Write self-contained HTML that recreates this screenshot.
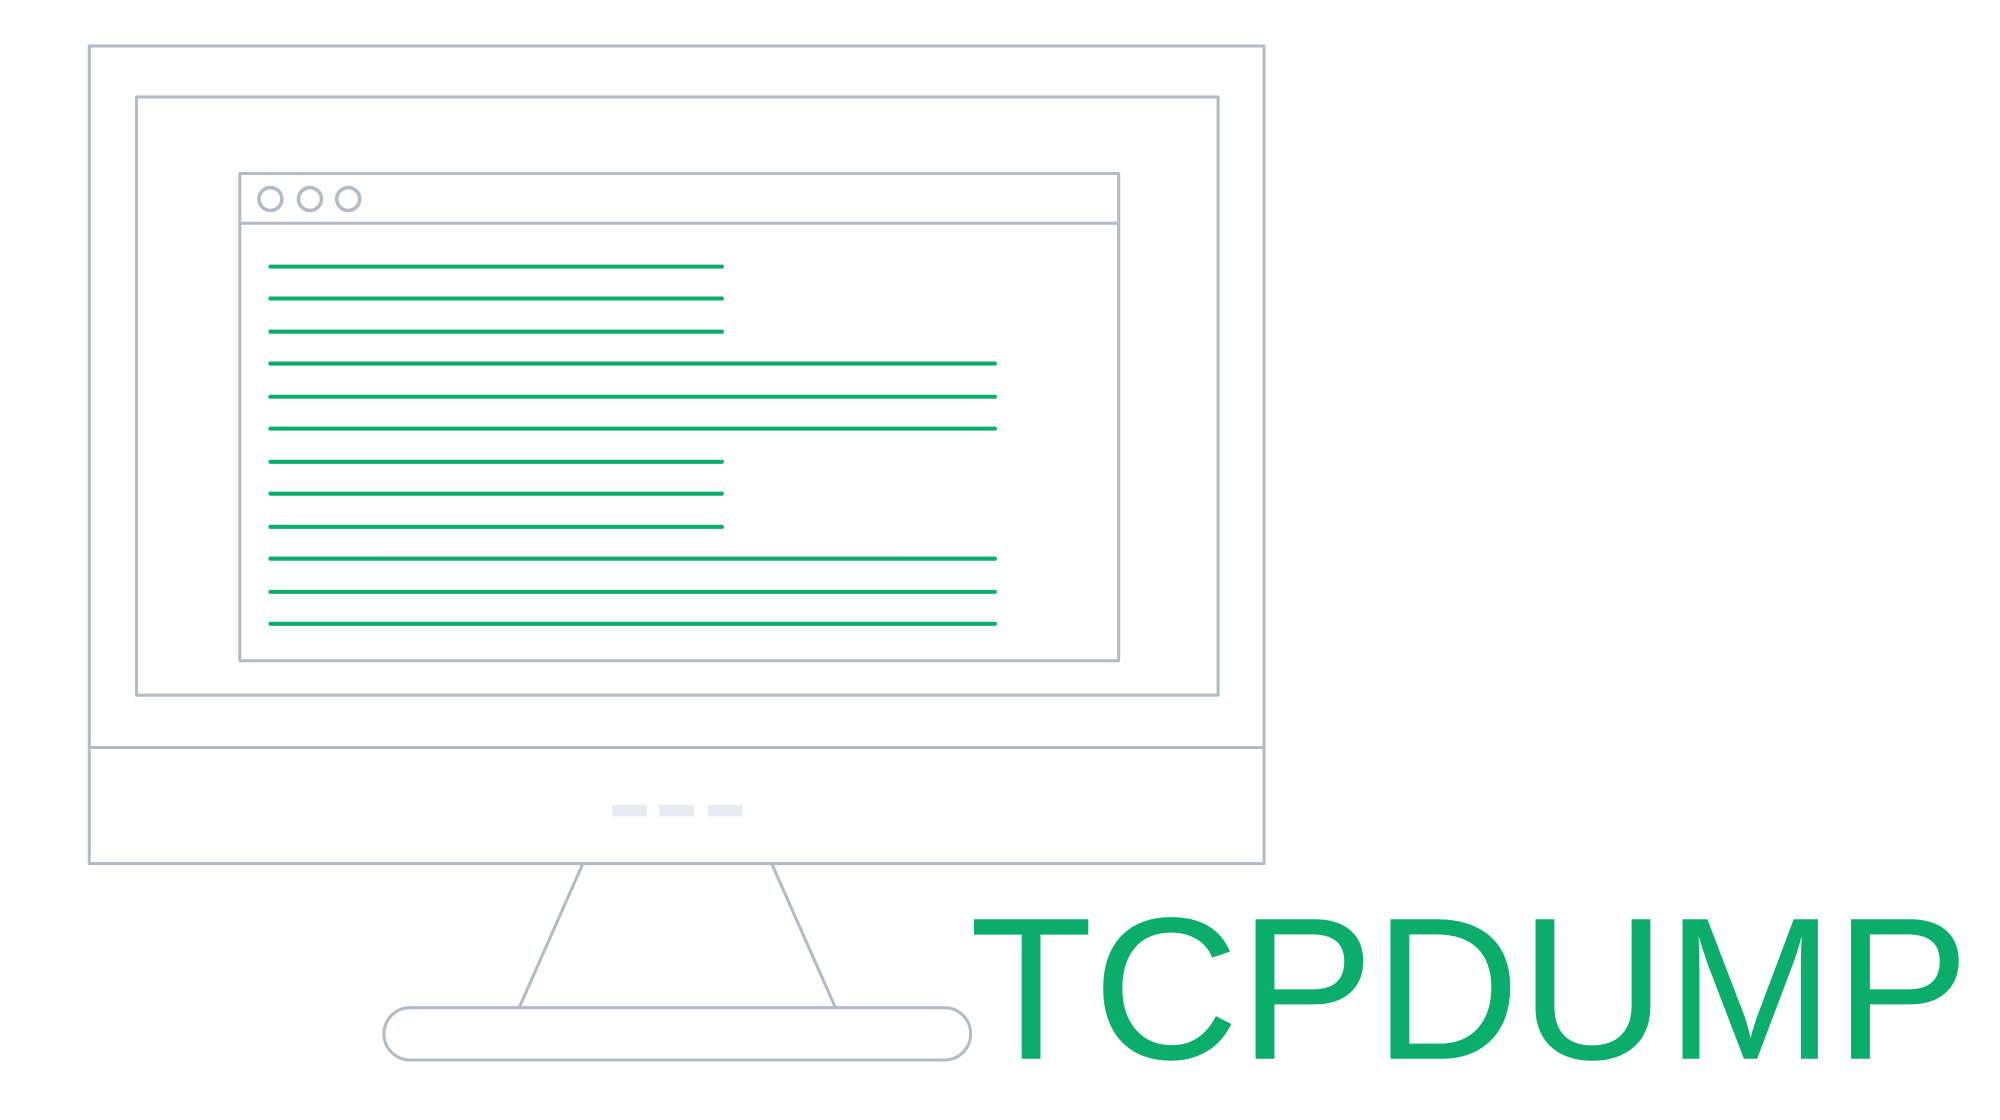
<!DOCTYPE html>
<html><head><meta charset="utf-8"><style>html,body{margin:0;padding:0;background:#fff;width:2000px;height:1120px;overflow:hidden}</style></head>
<body>
<svg width="2000" height="1120" viewBox="0 0 1568 878" xmlns="http://www.w3.org/2000/svg">
<g fill="none" stroke="#b3bbc7" stroke-width="2.4" stroke-linejoin="round">
<rect x="70" y="36" width="921" height="641"/>
<line x1="70" y1="586" x2="991" y2="586"/>
<rect x="107" y="76" width="848" height="469"/>
<rect x="188" y="136" width="689" height="382"/>
<line x1="188" y1="175" x2="877" y2="175"/>
<circle cx="212" cy="156" r="9" stroke-width="2.8"/>
<circle cx="243" cy="156" r="9" stroke-width="2.8"/>
<circle cx="273" cy="156" r="9" stroke-width="2.8"/>
<line x1="457" y1="677" x2="407" y2="790"/>
<line x1="605" y1="677" x2="655" y2="790"/>
<rect x="301" y="790" width="460" height="41" rx="20.5"/>
</g>
<g fill="#e7eaf0">
<rect x="480" y="631" width="27" height="9"/>
<rect x="517" y="631" width="27" height="9"/>
<rect x="555" y="631" width="27" height="9"/>
</g>
<g stroke="#0aad6a" stroke-width="3.2" stroke-linecap="round">
<line x1="212" y1="209" x2="566" y2="209"/>
<line x1="212" y1="234" x2="566" y2="234"/>
<line x1="212" y1="260" x2="566" y2="260"/>
<line x1="212" y1="285" x2="780" y2="285"/>
<line x1="212" y1="311" x2="780" y2="311"/>
<line x1="212" y1="336" x2="780" y2="336"/>
<line x1="212" y1="362" x2="566" y2="362"/>
<line x1="212" y1="387" x2="566" y2="387"/>
<line x1="212" y1="413" x2="566" y2="413"/>
<line x1="212" y1="438" x2="780" y2="438"/>
<line x1="212" y1="464" x2="780" y2="464"/>
<line x1="212" y1="489" x2="780" y2="489"/>
</g>
<text x="760" y="830" font-family="Liberation Sans, sans-serif" font-size="159" fill="#0aad6a" textLength="784" lengthAdjust="spacingAndGlyphs">TCPDUMP</text>
</svg>
</body></html>
